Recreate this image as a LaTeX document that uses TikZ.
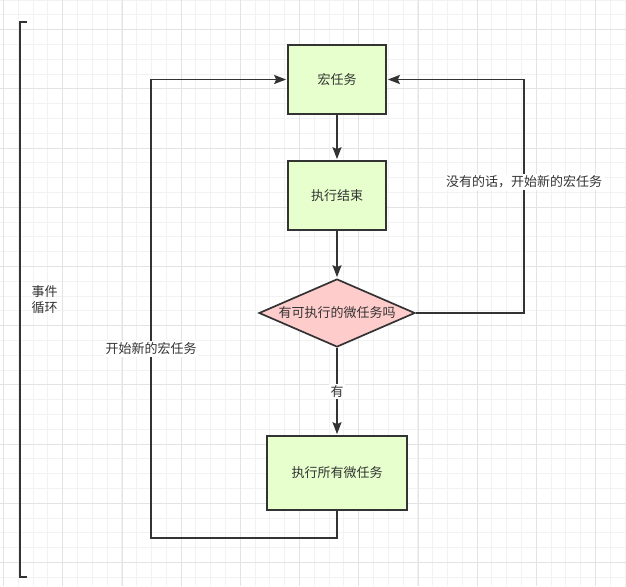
\documentclass[tikz,border=0pt]{standalone}
\usepackage{fontspec}
\setmainfont{Noto Sans CJK SC}
\usetikzlibrary{shapes.geometric, arrows.meta, calc}

\definecolor{linegray}{HTML}{333333}
\definecolor{boxgreen}{HTML}{E6FFCC}
\definecolor{askpink}{HTML}{FFCCCC}
\definecolor{gridminor}{HTML}{F2F2F2}
\definecolor{gridmajor}{HTML}{E3E3E3}

\tikzset{
    taskbox/.style = {rectangle, draw = linegray, fill = boxgreen, line width = 1.7pt, text = linegray, inner sep = 0pt},
    askbox/.style = {diamond, draw = linegray, fill = askpink, line width = 1.7pt, text = linegray, inner sep = 0pt, aspect = 2.3, minimum width = 156pt, minimum height = 68pt},
    flow/.style = {draw = linegray, line width = 1.7pt, -{Stealth[length = 12pt, width = 9pt, inset = 2pt]}, shorten > = 1pt},
    tag/.style = {fill = white, text = linegray, inner sep = 1.5pt}
}

\begin{document}
\begin{tikzpicture}[x = 1pt, y = -1pt, font = \fontsize{13pt}{16pt}\selectfont]
    \useasboundingbox (0,0) rectangle (626,586);
    \fill[white] (0,0) rectangle (626,586);
    % grid
    \foreach \k in {0,...,42}
        \draw[gridminor, line width = 0.8pt] ({3.4+14.8*\k},0) -- ({3.4+14.8*\k},586);
    \foreach \k in {0,...,39}
        \draw[gridminor, line width = 0.8pt] (0,{14.8*\k}) -- (626,{14.8*\k});
    \foreach \k in {0,...,10}
        \draw[gridmajor, line width = 0.8pt] ({3.5+59.2*\k},0) -- ({3.5+59.2*\k},586);
    \foreach \k in {0,...,9}
        \draw[gridmajor, line width = 0.8pt] (0,{29.6+59.2*\k}) -- (626,{29.6+59.2*\k});

    % bracket
    \draw[linegray, line width = 1.8pt] (27,22) -| (20,577) -- (27,577);
    \node[
    anchor = west,
    align = left,
    text = linegray
    ] (loopname) at (28,300) {事件\\循环};

    \node[
    taskbox,
    minimum width = 98pt,
    minimum height = 69pt
    ] (macro) at (337,79.5) {宏任务};
    \node[
    taskbox,
    minimum width = 98pt,
    minimum height = 69pt
    ] (done) at (337,195.5) {执行结束};
    \node[askbox] (ask) at (337,313) {有可执行的微任务吗};
    \node[
    taskbox,
    minimum width = 140pt,
    minimum height = 74pt
    ] (micro) at (337,473) {执行所有微任务};

    \coordinate (lb) at (151,538);
    \coordinate (rt) at (524,79.5);

    \draw[flow] (macro) -- (done);
    \draw[flow] (done) -- (ask);
    \draw[flow] (ask) -- node[tag] (yes) {有} (micro);
    \draw[flow] (micro.south) |- (lb) |- (macro.west);
    \draw[flow] (ask.east) -| (rt) -- (macro.east);

    \node[tag] (newleft) at (151,349) {开始新的宏任务};
    \node[tag] (newright) at (524,182) {没有的话，开始新的宏任务};
\end{tikzpicture}
\end{document}
